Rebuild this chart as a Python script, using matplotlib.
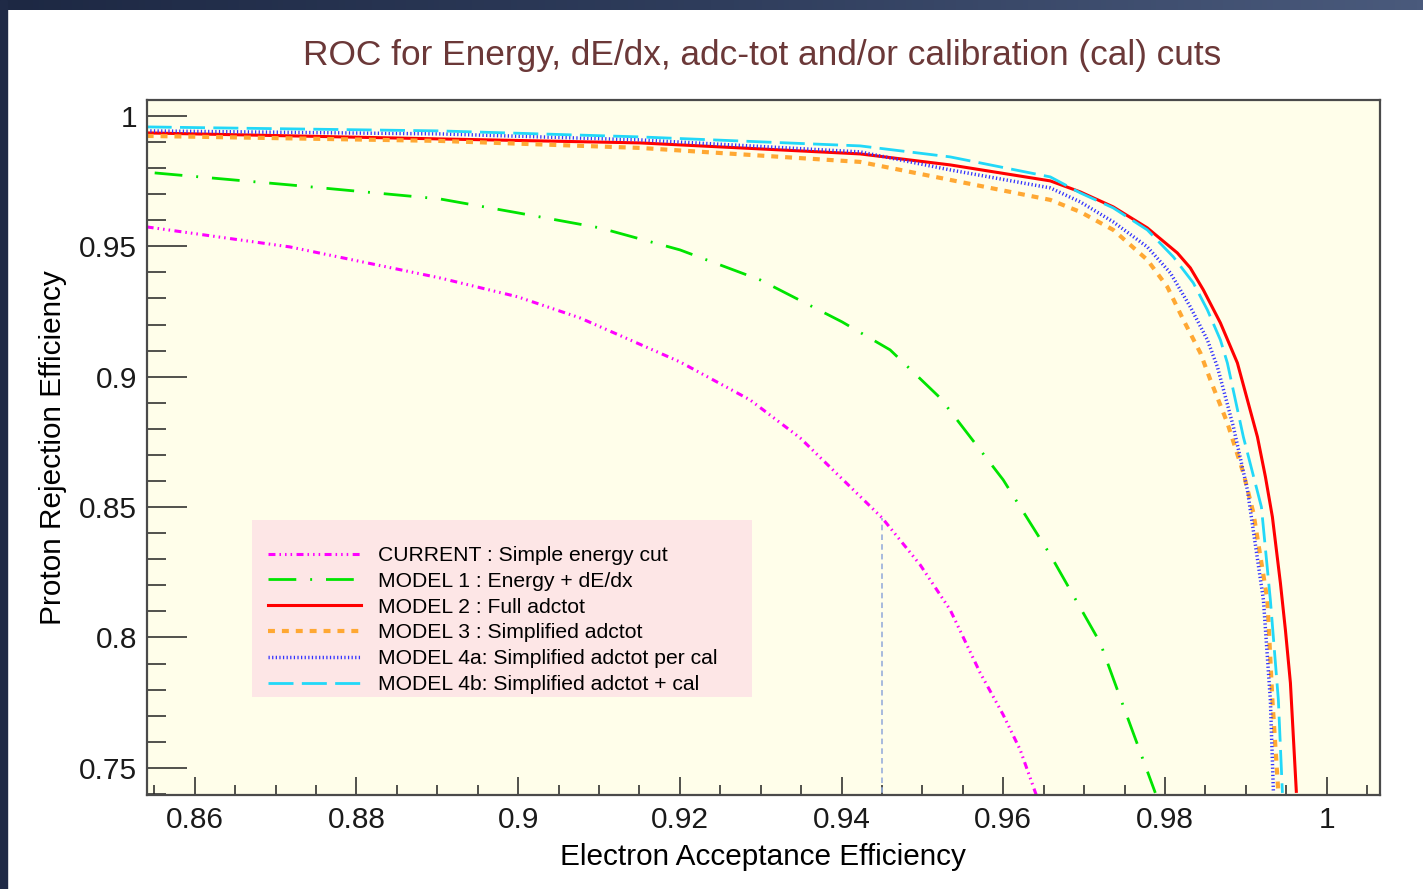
import numpy as np
import matplotlib.pyplot as plt
from matplotlib.lines import Line2D
from matplotlib.patches import Rectangle
from matplotlib.colors import LinearSegmentedColormap
from matplotlib.ticker import MultipleLocator, FuncFormatter

plt.rcParams["font.family"] = ["Liberation Sans", "DejaVu Sans"]
plt.rcParams["lines.scale_dashes"] = False

# ROC curves (electron acceptance, proton rejection)
current_x = [0.85406, 0.87176, 0.89032, 0.89998, 0.90765, 0.92002, 0.92869, 0.93488,
             0.94020, 0.94502, 0.94973, 0.95344, 0.95715, 0.96000, 0.96210, 0.96408]
current_y = [0.95744, 0.94977, 0.93788, 0.93060, 0.92255, 0.90567, 0.89110, 0.87653,
             0.86043, 0.84586, 0.82784, 0.81058, 0.78643, 0.77032, 0.75690, 0.73965]

model1_x = [0.85505, 0.87176, 0.89032, 0.89998, 0.91012, 0.92002, 0.92993, 0.94007,
            0.94601, 0.95220, 0.96000, 0.96582, 0.97200, 0.97448, 0.97881]
model1_y = [0.97814, 0.97354, 0.96817, 0.96281, 0.95706, 0.94862, 0.93712, 0.92101,
            0.91028, 0.89187, 0.86043, 0.83167, 0.79793, 0.77684, 0.74041]

model2_x = [0.85406, 0.89032, 0.91507, 0.94230, 0.95344, 0.96582, 0.96953, 0.97361,
            0.97782, 0.98153, 0.98314, 0.98475, 0.98686, 0.98896, 0.99144, 0.99243,
            0.99329, 0.99428, 0.99490, 0.99552, 0.99626]
model2_y = [0.99348, 0.99118, 0.98965, 0.98543, 0.98121, 0.97508, 0.97086, 0.96511,
            0.95706, 0.94747, 0.94172, 0.93328, 0.92063, 0.90529, 0.87692, 0.86158,
            0.84624, 0.82094, 0.80291, 0.78259, 0.74041]

model3_x = [0.85406, 0.89032, 0.91507, 0.94230, 0.95344, 0.96582, 0.96953, 0.97361,
            0.97782, 0.98030, 0.98228, 0.98438, 0.98562, 0.98772, 0.98970, 0.99094,
            0.99267, 0.99329, 0.99403]
model3_y = [0.99233, 0.99041, 0.98773, 0.98236, 0.97546, 0.96779, 0.96319, 0.95629,
            0.94479, 0.93443, 0.92178, 0.90913, 0.89877, 0.88229, 0.86311, 0.84778,
            0.81442, 0.77607, 0.74041]

model4a_x = [0.85406, 0.89032, 0.91507, 0.94230, 0.95344, 0.96582, 0.96953, 0.97361,
             0.97782, 0.98067, 0.98314, 0.98525, 0.98649, 0.98847, 0.99020, 0.99218,
             0.99304, 0.99342]
model4a_y = [0.99425, 0.99310, 0.99080, 0.98620, 0.97929, 0.97239, 0.96702, 0.95936,
             0.94977, 0.93980, 0.92676, 0.91411, 0.90376, 0.88075, 0.85660, 0.81442,
             0.77607, 0.74041]

model4b_x = [0.85406, 0.89032, 0.91507, 0.94230, 0.95344, 0.96582, 0.96953, 0.97361,
             0.97782, 0.98104, 0.98351, 0.98525, 0.98686, 0.98772, 0.98970, 0.99193,
             0.99304, 0.99403, 0.99453]
model4b_y = [0.99578, 0.99425, 0.99195, 0.98850, 0.98428, 0.97661, 0.97048, 0.96472,
             0.95629, 0.94594, 0.93597, 0.92561, 0.91411, 0.90529, 0.87692, 0.85008,
             0.81442, 0.77607, 0.74041]

# working point marked by the dashed line
wp_x = 0.945
wp_y = 0.8459

labels = [
    "CURRENT : Simple energy cut",
    "MODEL 1 : Energy + dE/dx",
    "MODEL 2 : Full adctot",
    "MODEL 3 : Simplified adctot",
    "MODEL 4a: Simplified adctot per cal",
    "MODEL 4b: Simplified adctot + cal",
]

styles = [
    dict(color="#ff00ff", lw=2.2, dashes=[5, 2.9, 1.1, 2.9, 1.1, 2.9, 1.1, 3.2]),
    dict(color="#00e400", lw=2.0, dashes=[20, 10, 1.4, 10]),
    dict(color="#ff0000", lw=2.2, linestyle="-"),
    dict(color="#ffa833", lw=3.0, dashes=[5, 5]),
    dict(color="#3333ff", lw=2.5, dashes=[0.9, 1.7]),
    dict(color="#22d8f8", lw=2.0, dashes=[18, 6]),
]

curves = [
    (current_x, current_y),
    (model1_x, model1_y),
    (model2_x, model2_y),
    (model3_x, model3_y),
    (model4a_x, model4a_y),
    (model4b_x, model4b_y),
]

W, H = 1423, 889
fig = plt.figure(figsize=(W / 100, H / 100), dpi=100)
fig.patch.set_facecolor("white")

# dark window border: gradient strip on top, plain strip on the left
strip = fig.add_axes([0, 1 - 10 / H, 1, 10 / H])
grad = LinearSegmentedColormap.from_list("bar", ["#1d2843", "#2f3d5c", "#4a5a7c"])
strip.imshow(np.linspace(0, 1, 256)[None, :], aspect="auto", cmap=grad)
strip.set_axis_off()
fig.patches.append(Rectangle((0, 0), 7 / W, 1, transform=fig.transFigure,
                             color="#1f2a46", zorder=0))

ax = fig.add_axes([147 / W, 1 - 795 / H, (1380 - 147) / W, (795 - 100) / H])
ax.set_facecolor("#fffeea")

for (x, y), st in zip(curves, styles):
    ax.plot(x, y, solid_capstyle="butt", dash_capstyle="butt",
            solid_joinstyle="round", **st)

ax.vlines(wp_x, 0.7, wp_y, colors="#98aedb", linestyles=(0, (4, 3)), lw=1.2)

ax.set_xlim(0.8541, 1.0066)
ax.set_ylim(0.7396, 1.0061)

fmt = FuncFormatter(lambda v, p: "%g" % round(v, 4))
ax.xaxis.set_major_locator(MultipleLocator(0.02))
ax.xaxis.set_minor_locator(MultipleLocator(0.005))
ax.yaxis.set_major_locator(MultipleLocator(0.05))
ax.yaxis.set_minor_locator(MultipleLocator(0.01))
ax.xaxis.set_major_formatter(fmt)
ax.yaxis.set_major_formatter(fmt)

ax.tick_params(axis="both", which="both", direction="in", top=False, right=False,
               width=1.1, color="#222222", labelsize=21.5, labelcolor="#1a1a1a")
ax.tick_params(axis="x", which="major", length=13, pad=8)
ax.tick_params(axis="x", which="minor", length=7)
ax.tick_params(axis="y", which="major", length=29, pad=7)
ax.tick_params(axis="y", which="minor", length=14)

for side in ["bottom", "left", "top", "right"]:
    ax.spines[side].set_linewidth(1.6)
    ax.spines[side].set_color("#4a4a4a")

ax.set_xlabel("Electron Acceptance Efficiency", fontsize=21.4, va="center")
ax.set_ylabel("Proton Rejection Efficiency", fontsize=21.4, va="center")
ax.xaxis.set_label_coords((763 - 147) / 1233, -(857 - 795) / 695)
ax.yaxis.set_label_coords(-(147 - 53) / 1233, 0.5)

fig.text(762 / W, 1 - 56 / H,
         "ROC for Energy, dE/dx, adc-tot and/or calibration (cal) cuts",
         ha="center", va="center", fontsize=25.4, color="#6b3838")

# legend box
ax.add_patch(Rectangle(((252 - 147) / 1233, (795 - 697) / 695), 500 / 1233, 177 / 695,
                       transform=ax.transAxes, facecolor="#fde6e6", edgecolor="none",
                       zorder=3))
handles = [Line2D([], [], **st) for st in styles]
leg = ax.legend(handles, labels, loc="center left",
                bbox_to_anchor=((268 - 147) / 1233, (795 - 620) / 695),
                frameon=False, fontsize=15.2, handlelength=4.4, handletextpad=0.8,
                labelspacing=0.32, borderpad=0, borderaxespad=0)
leg.set_zorder(4)

fig.savefig("out.png", dpi=100)
